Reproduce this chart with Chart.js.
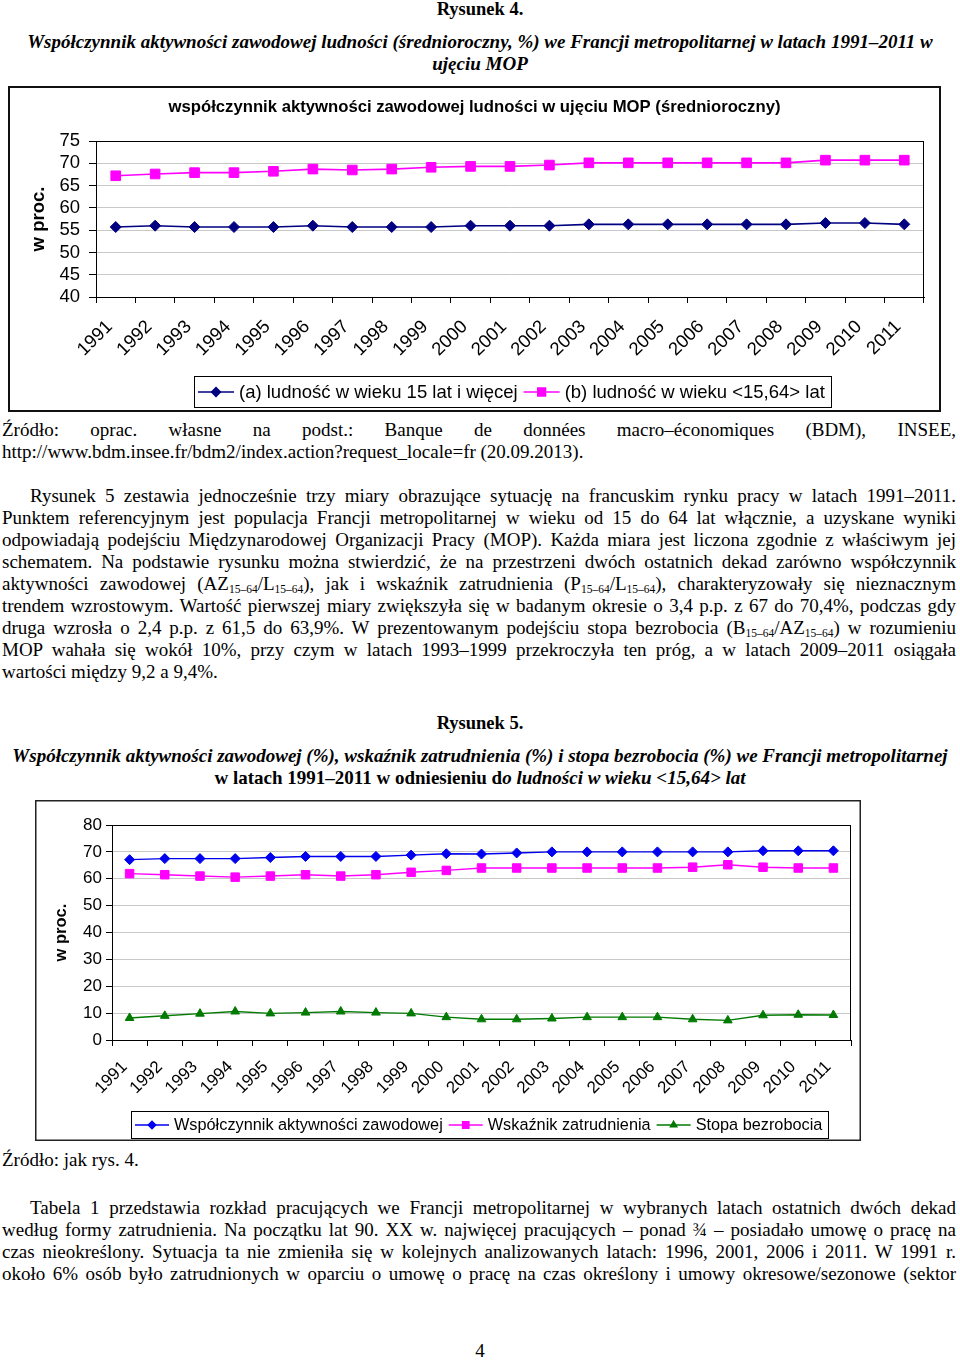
<!DOCTYPE html>
<html>
<head>
<meta charset="utf-8">
<script src="https://cdn.jsdelivr.net/npm/chart.js@4.4.0/dist/chart.umd.min.js"></script>
<style>
body { margin: 0; background: #fff; }
#page { position: relative; width: 960px; height: 1361px; overflow: hidden; font-family: "Liberation Serif", "Times New Roman", serif; font-size: 19px; color: #000; }
.t { position: absolute; left: 2px; width: 954px; line-height: 22px; white-space: nowrap; }
.c { left: 0; width: 960px; text-align: center; }
.j { white-space: normal; text-align: justify; text-align-last: justify; }
.ind { text-indent: 28px; }
.b { font-weight: bold; }
.i { font-style: italic; }
.h { font-size: 18.5px; }
sub { font-size: 11.5px; vertical-align: -3px; line-height: 0; }
canvas { position: absolute; }
</style>
</head>
<body>
<div id="page">
  <div class="t c b h" style="top:-2px">Rysunek 4.</div>
  <div class="t c b i" style="top:31px">Współczynnik aktywności zawodowej ludności (średnioroczny, %) we Francji metropolitarnej w latach 1991–2011 w</div>
  <div class="t c b i" style="top:53px">ujęciu MOP</div>

  <canvas id="fig4" width="933" height="326" style="left:8px;top:86px;width:933px;height:326px"></canvas>

  <div class="t j" style="top:419px">Źródło: oprac. własne na podst.: Banque de données macro–économiques (BDM), INSEE,</div>
  <div class="t" style="top:441px">http://www.bdm.insee.fr/bdm2/index.action?request_locale=fr (20.09.2013).</div>

  <div class="t j ind" style="top:485px">Rysunek 5 zestawia jednocześnie trzy miary obrazujące sytuację na francuskim rynku pracy w latach 1991–2011.</div>
  <div class="t j" style="top:507px">Punktem referencyjnym jest populacja Francji metropolitarnej w wieku od 15 do 64 lat włącznie, a uzyskane wyniki</div>
  <div class="t j" style="top:529px">odpowiadają podejściu Międzynarodowej Organizacji Pracy (MOP). Każda miara jest liczona zgodnie z właściwym jej</div>
  <div class="t j" style="top:551px">schematem. Na podstawie rysunku można stwierdzić, że na przestrzeni dwóch ostatnich dekad zarówno współczynnik</div>
  <div class="t j" style="top:573px">aktywności zawodowej (AZ<sub>15–64</sub>/L<sub>15–64</sub>), jak i wskaźnik zatrudnienia (P<sub>15–64</sub>/L<sub>15–64</sub>), charakteryzowały się nieznacznym</div>
  <div class="t j" style="top:595px">trendem wzrostowym. Wartość pierwszej miary zwiększyła się w badanym okresie o 3,4 p.p. z 67 do 70,4%, podczas gdy</div>
  <div class="t j" style="top:617px">druga wzrosła o 2,4 p.p. z 61,5 do 63,9%. W prezentowanym podejściu stopa bezrobocia (B<sub>15–64</sub>/AZ<sub>15–64</sub>) w rozumieniu</div>
  <div class="t j" style="top:639px">MOP wahała się wokół 10%, przy czym w latach 1993–1999 przekroczyła ten próg, a w latach 2009–2011 osiągała</div>
  <div class="t" style="top:661px">wartości między 9,2 a 9,4%.</div>

  <div class="t c b h" style="top:712px">Rysunek 5.</div>
  <div class="t c b i" style="top:745px">Współczynnik aktywności zawodowej (%), wskaźnik zatrudnienia (%) i stopa bezrobocia (%) we Francji metropolitarnej</div>
  <div class="t c b" style="top:767px">w latach 1991–2011 w odniesieniu d<span class="i">o ludności w wieku &lt;15,64&gt; lat</span></div>

  <canvas id="fig5" width="826" height="341" style="left:35px;top:800px;width:826px;height:341px"></canvas>

  <div class="t" style="top:1149px">Źródło: jak rys. 4.</div>

  <div class="t j ind" style="top:1197px">Tabela 1 przedstawia rozkład pracujących we Francji metropolitarnej w wybranych latach ostatnich dwóch dekad</div>
  <div class="t j" style="top:1219px">według formy zatrudnienia. Na początku lat 90. XX w. najwięcej pracujących – ponad ¾ – posiadało umowę o pracę na</div>
  <div class="t j" style="top:1241px">czas nieokreślony. Sytuacja ta nie zmieniła się w kolejnych analizowanych latach: 1996, 2001, 2006 i 2011. W 1991 r.</div>
  <div class="t j" style="top:1263px">około 6% osób było zatrudnionych w oparciu o umowę o pracę na czas określony i umowy okresowe/sezonowe (sektor</div>

  <div class="t c" style="top:1340px">4</div>
</div>

<script>
const years = ['1991', '1992', '1993', '1994', '1995', '1996', '1997', '1998', '1999', '2000',
    '2001', '2002', '2003', '2004', '2005', '2006', '2007', '2008', '2009', '2010', '2011'];

// Rysunek 4
const fig4Total = [55.7, 56.0, 55.7, 55.7, 55.7, 56.0, 55.7, 55.7, 55.7, 56.0, 56.0,
    56.0, 56.3, 56.3, 56.3, 56.3, 56.3, 56.3, 56.6, 56.6, 56.3];
const fig4Working = [67.2, 67.6, 67.9, 67.9, 68.2, 68.7, 68.5, 68.7, 69.1, 69.3, 69.3,
    69.6, 70.1, 70.1, 70.1, 70.1, 70.1, 70.1, 70.7, 70.7, 70.7];
const fig4Min = 40, fig4Max = 75, fig4Step = 5;

// Rysunek 5
const fig5Activity = [67.1, 67.5, 67.5, 67.5, 67.9, 68.3, 68.3, 68.3, 68.8, 69.3, 69.2,
    69.6, 70.0, 70.0, 70.0, 70.0, 70.0, 70.0, 70.4, 70.4, 70.4];
const fig5Employment = [61.9, 61.5, 61.0, 60.6, 61.0, 61.5, 61.0, 61.5, 62.4, 63.1, 64.0,
    64.0, 64.0, 64.0, 64.0, 64.0, 64.3, 65.2, 64.3, 64.0, 64.0];
const fig5Unemployment = [8.2, 9.0, 9.8, 10.6, 9.9, 10.2, 10.6, 10.2, 9.9, 8.5, 7.7,
    7.7, 8.0, 8.5, 8.5, 8.5, 7.7, 7.3, 9.2, 9.4, 9.3];
const fig5Min = 0, fig5Max = 80, fig5Step = 10;

Chart.defaults.font.family = '"Liberation Sans", Arial, sans-serif';
Chart.defaults.color = '#000';

// plot frame, outer box, title and a boxed legend (line + marker like in Excel)
const framePlugin = {
    id: 'frame',
    beforeDatasetsDraw(chart, args, opts) {
        const ctx = chart.ctx;
        const a = chart.chartArea;
        ctx.save();
        ctx.strokeStyle = '#000';
        ctx.lineWidth = 1;
        ctx.strokeRect(Math.round(a.left) + 0.5, Math.round(a.top) + 0.5, Math.round(a.width) - 1, Math.round(a.height));
        ctx.restore();
    },
    afterDraw(chart, args, opts) {
        const ctx = chart.ctx;
        ctx.save();
        const ow = opts.outer;
        ctx.strokeStyle = opts.outerColor;
        ctx.lineWidth = ow;
        ctx.strokeRect(ow / 2, ow / 2, chart.width - ow, chart.height - ow);

        if (opts.title) {
            ctx.font = opts.title.font;
            ctx.fillStyle = '#000';
            ctx.textAlign = 'center';
            ctx.textBaseline = 'middle';
            ctx.fillText(opts.title.text, opts.title.x, opts.title.y);
        }

        const L = opts.legend;
        ctx.font = L.font;
        const items = chart.data.datasets.map(ds => ({ ds: ds, w: ctx.measureText(ds.label).width }));
        let total = L.padL + L.padR;
        items.forEach(it => { total += L.sym + L.gap + it.w; });
        total += L.itemGap * (items.length - 1);
        const x0 = Math.round(L.cx - total / 2);
        ctx.strokeStyle = '#000';
        ctx.lineWidth = 1;
        ctx.strokeRect(x0 + 0.5, L.top + 0.5, Math.round(total), L.h);

        let x = x0 + L.padL;
        const y = L.top + L.h / 2 + 0.5;
        items.forEach(it => {
            const ds = it.ds;
            ctx.strokeStyle = ds.borderColor;
            ctx.lineWidth = ds.borderWidth;
            ctx.beginPath();
            ctx.moveTo(x, y);
            ctx.lineTo(x + L.sym, y);
            ctx.stroke();
            ctx.fillStyle = ds.pointBackgroundColor;
            ctx.strokeStyle = ds.pointBorderColor;
            Chart.helpers.drawPoint(ctx, { pointStyle: ds.pointStyle, radius: ds.pointRadius * L.markerScale, rotation: 0, borderWidth: 1 }, x + L.sym / 2, y);
            ctx.fillStyle = '#000';
            ctx.textBaseline = 'middle';
            ctx.textAlign = 'left';
            ctx.fillText(ds.label, x + L.sym + L.gap, y + 1);
            x += L.sym + L.gap + it.w + L.itemGap;
        });
        ctx.restore();
    }
};

function series(label, data, color, style, radius, width) {
    return {
        label: label,
        data: data,
        borderColor: color,
        backgroundColor: color,
        pointBackgroundColor: color,
        pointBorderColor: color,
        pointStyle: style,
        pointRadius: radius,
        pointBorderWidth: 1,
        borderWidth: width,
        tension: 0
    };
}

new Chart(document.getElementById('fig4'), {
    type: 'line',
    data: {
        labels: years,
        datasets: [
            series('(a) ludność w wieku 15 lat i więcej', fig4Total, '#000080', 'rectRot', 5.5, 1.6),
            series('(b) ludność w wieku <15,64> lat', fig4Working, '#ff00ff', 'rect', 6.8, 1.6)
        ]
    },
    options: {
        responsive: false,
        devicePixelRatio: 1,
        animation: false,
        layout: { padding: { left: 0, right: 17, top: 55, bottom: 45 } },
        plugins: {
            legend: { display: false },
            tooltip: { enabled: false },
            frame: {
                outer: 2, outerColor: '#111',
                title: { text: 'współczynnik aktywności zawodowej ludności w ujęciu MOP (średnioroczny)', font: 'bold 16.7px "Liberation Sans", Arial, sans-serif', x: 466.5, y: 21 },
                legend: { cx: 504.5, top: 290, h: 31, font: '18.5px "Liberation Sans", Arial, sans-serif', padL: 4, padR: 6, sym: 36, gap: 5, itemGap: 6, markerScale: 0.8 }
            }
        },
        scales: {
            x: {
                offset: true,
                grid: { offset: true, drawOnChartArea: false, tickLength: 6, color: '#000' },
                border: { color: '#000' },
                ticks: { autoSkip: false, minRotation: 45, maxRotation: 45, padding: 13, labelOffset: -6, font: { size: 18.5 } },
                afterFit: s => { s.height = 70; }
            },
            y: {
                min: fig4Min,
                max: fig4Max,
                ticks: { stepSize: fig4Step, autoSkip: false, padding: 9, font: { size: 18.5 } },
                grid: { color: '#c8c8c8', tickColor: '#000', tickLength: 7 },
                border: { color: '#000' },
                title: { display: true, text: 'w proc.', font: { size: 18.5, weight: 'bold' }, padding: { top: 20, bottom: 0 } },
                afterFit: s => { s.width = 88; }
            }
        }
    },
    plugins: [framePlugin]
});

new Chart(document.getElementById('fig5'), {
    type: 'line',
    data: {
        labels: years,
        datasets: [
            series('Współczynnik aktywności zawodowej', fig5Activity, '#0000ee', 'rectRot', 5, 1.4),
            series('Wskaźnik zatrudnienia', fig5Employment, '#ff00ff', 'rect', 6, 1.4),
            series('Stopa bezrobocia', fig5Unemployment, '#007a00', 'triangle', 5, 1.4)
        ]
    },
    options: {
        responsive: false,
        devicePixelRatio: 1,
        animation: false,
        layout: { padding: { left: 0, right: 10, top: 25, bottom: 40 } },
        plugins: {
            legend: { display: false },
            tooltip: { enabled: false },
            frame: {
                outer: 1.5, outerColor: '#222',
                legend: { cx: 445, top: 311, h: 27, font: '16.3px "Liberation Sans", Arial, sans-serif', padL: 4, padR: 6, sym: 34, gap: 5, itemGap: 6, markerScale: 0.75 }
            }
        },
        scales: {
            x: {
                offset: true,
                grid: { offset: true, drawOnChartArea: false, tickLength: 6, color: '#000' },
                border: { color: '#000' },
                ticks: { autoSkip: false, minRotation: 45, maxRotation: 45, padding: 11, labelOffset: -5, font: { size: 17 } },
                afterFit: s => { s.height = 61; }
            },
            y: {
                min: fig5Min,
                max: fig5Max,
                ticks: { stepSize: fig5Step, autoSkip: false, padding: 4, font: { size: 17 } },
                grid: { color: '#c8c8c8', tickColor: '#000', tickLength: 6 },
                border: { color: '#000' },
                title: { display: true, text: 'w proc.', font: { size: 16.5, weight: 'bold' }, padding: { top: 17, bottom: 0 } },
                afterFit: s => { s.width = 77; }
            }
        }
    },
    plugins: [framePlugin]
});
</script>
</body>
</html>
